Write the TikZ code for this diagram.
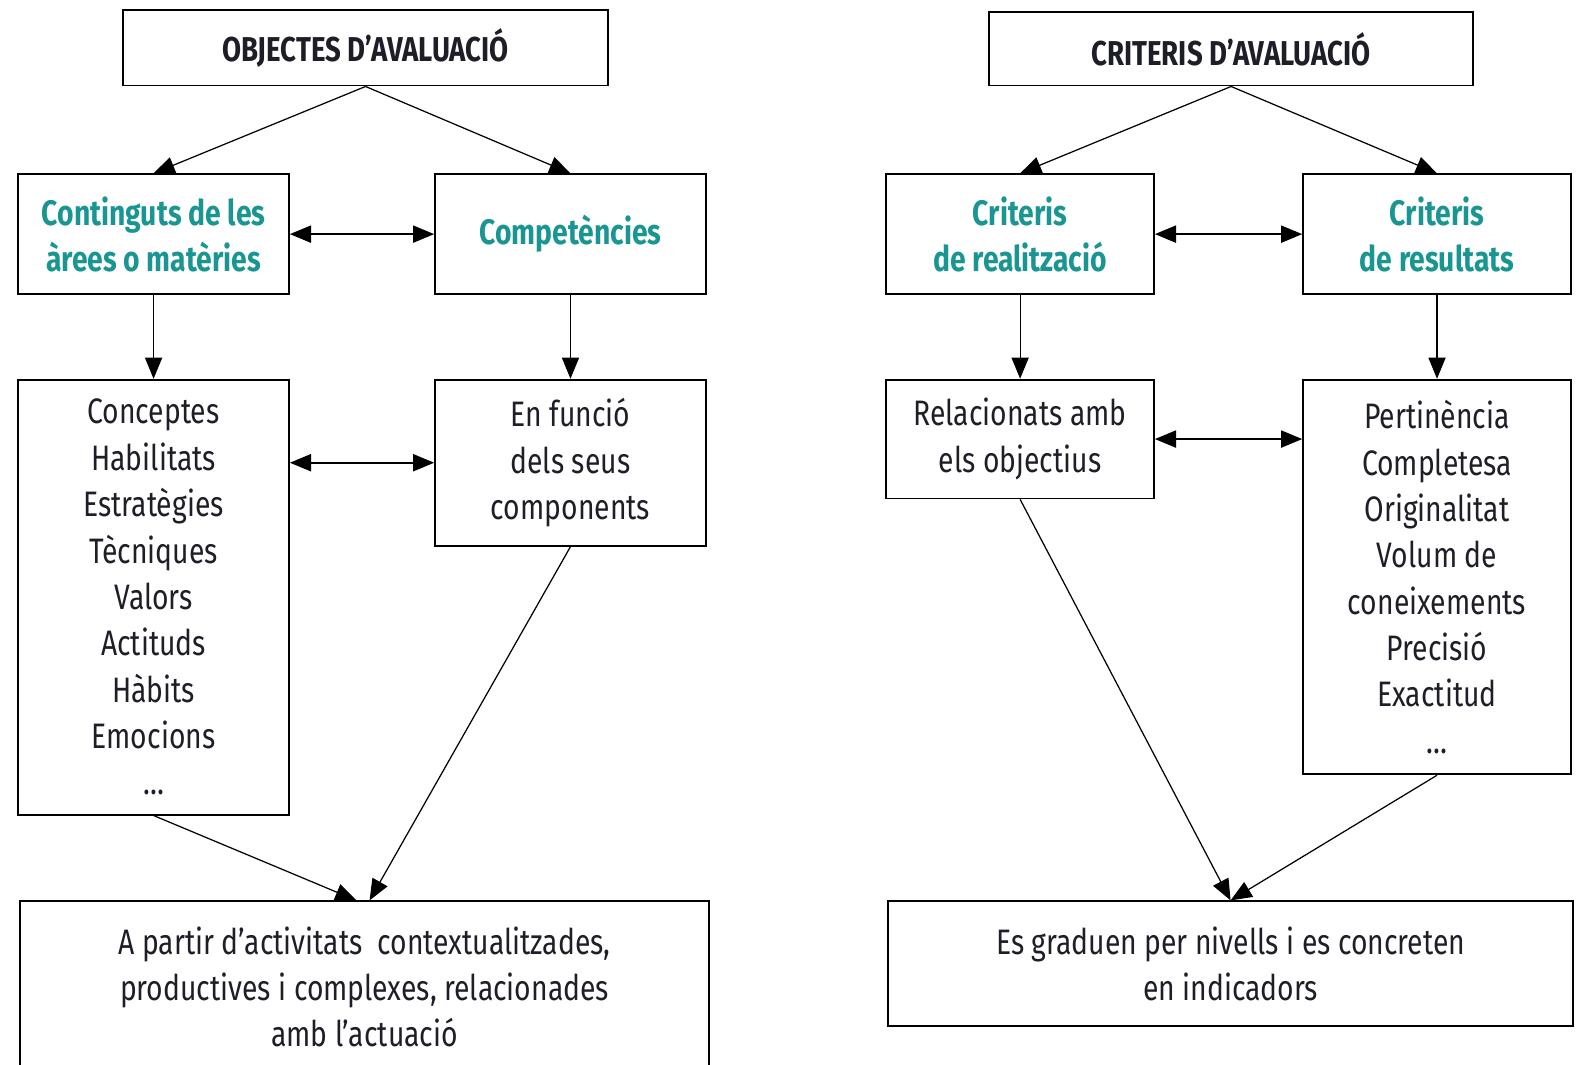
\documentclass[tikz,border=0pt]{standalone}
\usepackage{fontspec}
\setmainfont{Fira Sans}[FakeStretch=0.8]
\usetikzlibrary{arrows.meta}
\definecolor{titleteal}{RGB}{26,150,146}
\definecolor{textdark}{RGB}{30,30,40}

\begin{document}
\begin{tikzpicture}[x=0.02cm, y=-0.02cm, align=center, text=textdark,
	font=\fontsize{20}{26.2}\selectfont,
	box/.style={draw, rectangle, line width=1pt, inner sep=0pt},
	head/.style={box, font=\fontsize{19.5}{26.2}\selectfont\bfseries},
	subhead/.style={box, text=titleteal, font=\fontsize{20}{26.2}\selectfont\bfseries},
	link/.style={-{Triangle[length=0.42cm, width=0.34cm]}, line width=0.7pt},
	twoway/.style={{Triangle[length=0.42cm, width=0.34cm]}-{Triangle[length=0.42cm, width=0.34cm]}, line width=1pt}]

\useasboundingbox (0,0) rectangle (1568,1057);

% left half
\path (363,47.5) node[head, minimum width=9.64cm, minimum height=1.5cm] (obj) {OBJECTES D’AVALUACIÓ}
	  (152.5,232.5) node[subhead, minimum width=5.38cm, minimum height=2.38cm] (cont) {Continguts de les\\àrees o matèries}
	  (566.5,232.5) node[subhead, minimum width=5.38cm, minimum height=2.38cm] (comp) {Competències}
	  (152.5,593) node[box, minimum width=5.38cm, minimum height=8.64cm] (conc) {Conceptes\\Habilitats\\Estratègies\\Tècniques\\Valors\\Actituds\\Hàbits\\Emocions\\…}
	  (566.5,459.5) node[box, minimum width=5.38cm, minimum height=3.3cm] (func) {En funció\\dels seus\\components}
	  (362,980) node[box, minimum width=13.68cm, minimum height=3.4cm] (apartir) {A partir d’activitats\ \ contextualitzades,\\productives i complexes, relacionades\\amb l’actuació};

\draw[link] (obj.south) -- (cont.north);
\draw[link] (obj.south) -- (comp.north);
\draw[twoway] (cont.east) -- (comp.west);
\draw[link] (cont.south) -- (conc.north);
\draw[link] (comp.south) -- (func.north);
\draw[twoway] (conc.east |- func.west) -- (func.west);
\draw[link] (conc.south) -- ([xshift=-0.16cm]apartir.north);
\draw[link] (func.south) -- ([xshift=0.1cm]apartir.north);

% right half
\path (1222.5,48.5) node[head, minimum width=9.62cm, minimum height=1.46cm] (crit) {CRITERIS D’AVALUACIÓ}
	  (1013,232.5) node[subhead, minimum width=5.32cm, minimum height=2.38cm] (real) {Criteris\\de realització}
	  (1427,232.5) node[subhead, minimum width=5.32cm, minimum height=2.38cm] (resu) {Criteris\\de resultats}
	  (1013,436) node[box, minimum width=5.32cm, minimum height=2.36cm] (rela) {Relacionats amb\\els objectius}
	  (1427,573) node[box, minimum width=5.32cm, minimum height=7.84cm] (pert) {Pertinència\\Completesa\\Originalitat\\Volum de\\coneixements\\Precisió\\Exactitud\\…}
	  (1222,957) node[box, minimum width=13.6cm, minimum height=2.48cm] (grad) {Es graduen per nivells i es concreten\\en indicadors};

\draw[link] (crit.south) -- (real.north);
\draw[link] (crit.south) -- (resu.north);
\draw[twoway] (real.east) -- (resu.west);
\draw[link] (real.south) -- (rela.north);
\draw[link] (resu.south) -- (pert.north);
\draw[twoway] (rela.east) -- (pert.west |- rela.east);
\draw[link] (rela.south) -- (grad.north);
\draw[link] (pert.south) -- (grad.north);
\end{tikzpicture}
\end{document}
